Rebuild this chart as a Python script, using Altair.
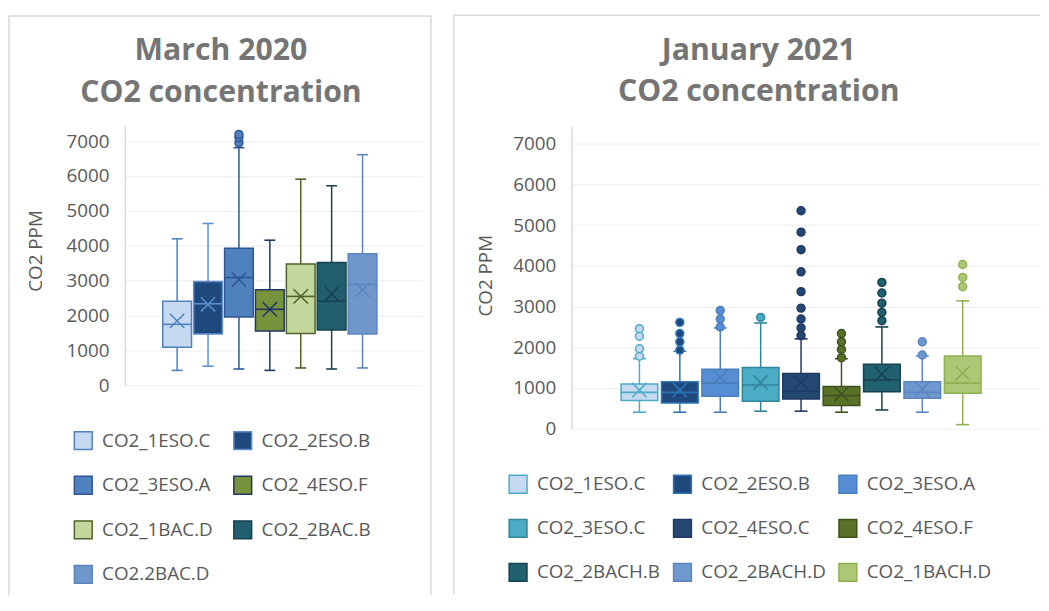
import altair as alt
import pandas as pd

FONT = "Open Sans"
TEXT_C = "#595959"
TITLE_C = "#757575"
GRID_C = "#eeeeee"
AXIS_C = "#d9d9d9"
FRAME_C = "#d9d9d9"
YMAX = 7440
Y_TICKS = [0, 1000, 2000, 3000, 4000, 5000, 6000, 7000]
X_SHAPE = "M-1,-1L1,1M-1,1L1,-1"

# ---------------- March 2020 ----------------
mar_title = ["March 2020", "CO2 concentration"]
mar_cats = ["CO2_1ESO.C", "CO2_2ESO.B", "CO2_3ESO.A", "CO2_4ESO.F",
            "CO2_1BAC.D", "CO2_2BAC.B", "CO2.2BAC.D"]
mar_low = [430, 550, 470, 430, 500, 470, 500]
mar_q1 = [1090, 1470, 1960, 1560, 1490, 1590, 1470]
mar_median = [1750, 2340, 3090, 2180, 2550, 2410, 2890]
mar_q3 = [2410, 2980, 3930, 2740, 3480, 3520, 3770]
mar_high = [4200, 4640, 6810, 4160, 5910, 5720, 6610]
mar_mean = [1850, 2320, 3030, 2180, 2550, 2620, 2740]
mar_outliers = [[], [], [6950, 7100, 7190], [], [], [], []]
mar_fill = ["#c5d9f1", "#1f497d", "#4f81bd", "#77933c",
            "#c3d69b", "#215f6e", "#6f97cc"]
mar_line = ["#4f81bd", "#5b8fd0", "#2f5597", "#1f3864",
            "#4f6228", "#17414f", "#5a85bd"]

# ---------------- January 2021 ----------------
jan_title = ["January 2021", "CO2 concentration"]
jan_cats = ["CO2_1ESO.C", "CO2_2ESO.B", "CO2_3ESO.A", "CO2_3ESO.C",
            "CO2_4ESO.C", "CO2_4ESO.F", "CO2_2BACH.B", "CO2_2BACH.D",
            "CO2_1BACH.D"]
jan_low = [405, 405, 405, 430, 430, 405, 460, 405, 100]
jan_q1 = [690, 633, 795, 673, 730, 568, 908, 746, 868]
jan_median = [892, 892, 1119, 1071, 916, 811, 1200, 892, 1119]
jan_q3 = [1095, 1152, 1460, 1500, 1354, 1038, 1582, 1152, 1784]
jan_high = [1720, 1900, 2474, 2595, 2206, 1719, 2498, 1784, 3139]
jan_mean = [949, 949, 1257, 1135, 1135, 852, 1338, 973, 1363]
jan_outliers = [
    [1780, 1963, 2271, 2457],
    [1930, 2133, 2336, 2611],
    [2498, 2693, 2903],
    [2733],
    [2287, 2474, 2693, 2960, 3366, 3852, 4396, 4826, 5353],
    [1744, 1946, 2133, 2336],
    [2652, 2855, 3082, 3333, 3593],
    [1809, 2133],
    [3487, 3715, 4031],
]
jan_fill = ["#c5d9f1", "#1f497d", "#558ed5", "#4bacc6", "#254873",
            "#5a7227", "#21606f", "#6f98cf", "#acc876"]
jan_line = ["#4bacc6", "#2e75b6", "#4a7ebb", "#31859c", "#1f3864",
            "#3f5220", "#17414f", "#5b85c0", "#8db150"]

# empty slots at both ends of the category axis (Excel's outer gap)
GAP_L, GAP_R = "_gap_left", "_gap_right"


def panel(title, cats, low, q1, median, q3, high, mean, outliers, fills, lines,
          width, height, pad_inner, pad_outer, align, cap, box_w, frame, right_side,
          legend_xy, ncols, col_pad, row_pad, title_dx, ytitle_x, ytitle_y):
    stats = pd.DataFrame({"cat": cats, "low": low, "q1": q1, "median": median,
                          "q3": q3, "high": high, "mean": mean})
    out_rows = [{"cat": c, "value": v} for c, vals in zip(cats, outliers) for v in vals]
    outs = pd.DataFrame(out_rows)
    one = pd.DataFrame({"k": [0]})

    x = alt.X("cat:N", axis=None,
              scale=alt.Scale(domain=[GAP_L] + cats + [GAP_R], paddingInner=pad_inner,
                              paddingOuter=pad_outer, align=align))
    yscale = alt.Scale(domain=[0, YMAX], nice=False, zero=True)
    yaxis = alt.Axis(values=Y_TICKS, format="d", grid=True, gridColor=GRID_C, gridWidth=1,
                     domain=True, domainColor=AXIS_C, domainWidth=1.5, ticks=False,
                     labelFont=FONT, labelFontSize=19, labelColor=TEXT_C,
                     labelPadding=16, title="CO2 PPM", titleFont=FONT,
                     titleFontSize=19, titleFontWeight="normal", titleColor=TEXT_C,
                     titleX=ytitle_x, titleY=ytitle_y, titleAngle=270,
                     titleAlign="center", titleBaseline="alphabetic")

    def Y(field):
        return alt.Y(field, type="quantitative", scale=yscale, axis=yaxis)

    legend = alt.Legend(orient="none", legendX=legend_xy[0], legendY=legend_xy[1],
                        columns=ncols, direction="horizontal", title=None,
                        symbolType="square", symbolSize=324, symbolStrokeWidth=1.5,
                        symbolOpacity=1, labelFont=FONT, labelFontSize=19,
                        labelColor=TEXT_C, labelOffset=9, labelLimit=300,
                        rowPadding=row_pad, columnPadding=col_pad, padding=0)
    fill_enc = alt.Fill("cat:N", scale=alt.Scale(domain=cats, range=fills), legend=legend)
    stroke_enc = alt.Stroke("cat:N", scale=alt.Scale(domain=cats, range=lines), legend=legend)
    # same colours as the stroke scale; listed in reverse so it stays a separate (legend-less) scale
    color_enc = alt.Color("cat:N", scale=alt.Scale(domain=cats[::-1], range=lines[::-1]),
                          legend=None)

    base = alt.Chart(stats)
    w_low = base.mark_rule(strokeWidth=1.5).encode(x=x, y=Y("low"), y2="q1:Q", color=color_enc)
    w_high = base.mark_rule(strokeWidth=1.5).encode(x=x, y=Y("q3"), y2="high:Q", color=color_enc)
    c_low = base.mark_tick(size=cap, thickness=1.6, opacity=1).encode(x=x, y=Y("low"), color=color_enc)
    c_high = base.mark_tick(size=cap, thickness=1.6, opacity=1).encode(x=x, y=Y("high"), color=color_enc)
    box = base.mark_bar(strokeWidth=1.5, opacity=1).encode(
        x=x, y=Y("q1"), y2="q3:Q", fill=fill_enc, stroke=stroke_enc)
    med = base.mark_tick(size=box_w, thickness=1.6, opacity=1).encode(
        x=x, y=Y("median"), color=color_enc)
    mn = base.mark_point(shape=X_SHAPE, size=210, filled=False, strokeWidth=1.5,
                         opacity=1).encode(x=x, y=Y("mean"), color=color_enc)
    pts = alt.Chart(outs).mark_point(shape="circle", size=64, filled=True,
                                     strokeWidth=1.5, opacity=1).encode(
        x=x, y=Y("value"), fill=fill_enc, stroke=stroke_enc)

    fl, fr, ft, fb = frame
    fbase = alt.Chart(one)
    layers = [
        fbase.mark_rule(color=FRAME_C, strokeWidth=1.5).encode(
            x=alt.value(fl), y=alt.value(ft), y2=alt.value(fb)),
        fbase.mark_rule(color=FRAME_C, strokeWidth=1.5).encode(
            x=alt.value(fl), x2=alt.value(fr), y=alt.value(ft)),
    ]
    if right_side:
        layers.append(fbase.mark_rule(color=FRAME_C, strokeWidth=1.5).encode(
            x=alt.value(fr), y=alt.value(ft), y2=alt.value(fb)))

    layers += [w_low, w_high, c_low, c_high, box, med, mn, pts]
    return alt.layer(*layers).properties(
        width=width, height=height,
        title=alt.TitleParams(text=title, font=FONT, fontSize=30.5, fontWeight="bold",
                              color=TITLE_C, anchor="middle", frame="bounds",
                              offset=-94, lineHeight=42, dx=title_dx))


left = panel(mar_title, mar_cats, mar_low, mar_q1, mar_median, mar_q3, mar_high,
             mar_mean, mar_outliers, mar_fill, mar_line,
             width=300, height=262.2, pad_inner=0.07, pad_outer=0.3425, align=0.33,
             cap=11, box_w=29, frame=(-117, 309, -110.8, 474), right_side=True,
             legend_xy=(-52, 308), ncols=2, col_pad=18, row_pad=21, title_dx=1,
             ytitle_x=-84, ytitle_y=126)

right = panel(jan_title, jan_cats, jan_low, jan_q1, jan_median, jan_q3, jan_high,
              jan_mean, jan_outliers, jan_fill, jan_line,
              width=473, height=305.9, pad_inner=0.093, pad_outer=0.343, align=0.33,
              cap=13, box_w=37, frame=(-119, 473, -111.6, 473), right_side=False,
              legend_xy=(-64, 352), ncols=3, col_pad=10, row_pad=20.5, title_dx=12,
              ytitle_x=-81, ytitle_y=151)

chart = alt.hconcat(left, right, spacing=21).resolve_scale(
    x="independent", y="independent", fill="independent",
    stroke="independent", color="independent"
).properties(
    padding={"left": 0, "top": 3, "right": 0, "bottom": 0},
    background="white",
).configure_view(stroke=None)

chart.save("out.html", embed_options={"renderer": "svg", "actions": False})
